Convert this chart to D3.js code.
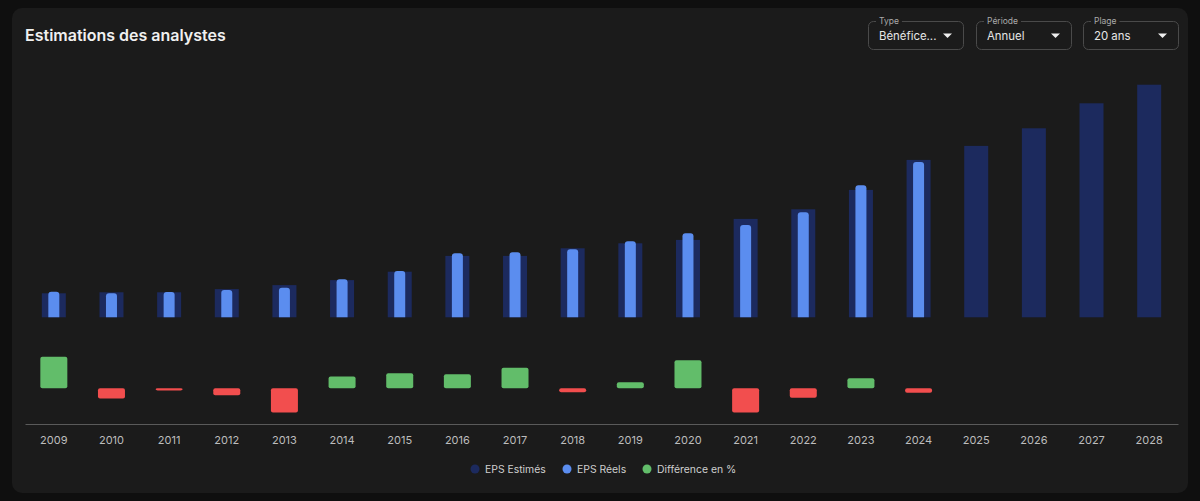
<!DOCTYPE html>
<html>
<head>
<meta charset="utf-8">
<script src="https://cdn.jsdelivr.net/npm/d3@7"></script>
<style>
  html, body { margin: 0; padding: 0; background: #0f0f0f; }
  svg { display: block; font-family: Inter, "Noto Sans", sans-serif; }
</style>
</head>
<body>
<svg width="1200" height="501"></svg>
<script>
const years = ["2009","2010","2011","2012","2013","2014","2015","2016","2017","2018",
  "2019","2020","2021","2022","2023","2024","2025","2026","2027","2028"];
const epsEstimated = [1.20,1.25,1.25,1.41,1.61,1.86,2.28,3.07,3.07,3.45,
  3.70,3.87,4.92,5.40,6.37,7.87,8.57,9.45,10.70,11.63];
const epsActual = [1.28,1.20,1.26,1.36,1.48,1.90,2.31,3.20,3.25,3.40,
  3.80,4.20,4.62,5.25,6.60,7.77];
const diffPct = [9.0,-2.9,-0.6,-2.0,-6.9,3.4,4.3,4.0,5.9,-1.1,
  1.7,8.0,-6.9,-2.7,2.9,-1.3];
const legendItems = ["EPS Estimés", "EPS Réels", "Différence en %"];
const dropdowns = [
  { label: "Type", value: "Bénéfice..." },
  { label: "Période", value: "Annuel" },
  { label: "Plage", value: "20 ans" }
];

const colEst = "#1c2a5e", colAct = "#5b8def", colUp = "#62bd6a", colDown = "#f24e4e";

const svg = d3.select("svg");

// card
svg.append("rect").attr("x", 12).attr("y", 8).attr("width", 1176).attr("height", 485)
  .attr("rx", 10).attr("fill", "#1b1b1b");

svg.append("text").attr("x", 25).attr("y", 41).attr("fill", "#f0f0f0")
  .attr("font-size", 16).attr("font-weight", 600).text("Estimations des analystes");

// dropdowns
const ddX = [868, 976, 1083], ddW = [95, 95, 95];
dropdowns.forEach((d, i) => {
  const g = svg.append("g").attr("transform", `translate(${ddX[i]},21)`);
  g.append("rect").attr("x", 0.5).attr("y", 0.5).attr("width", ddW[i]).attr("height", 28)
    .attr("rx", 5).attr("fill", "none").attr("stroke", "#4a4a4a");
  const lbl = g.append("text").attr("x", 11).attr("y", 0).attr("dy", "0.35em")
    .attr("fill", "#aaa").attr("font-size", 8.5).text(d.label);
  const lw = lbl.node().getComputedTextLength();
  g.insert("rect", "text").attr("x", 8).attr("y", -2).attr("width", lw + 6).attr("height", 5)
    .attr("fill", "#1b1b1b");
  g.append("text").attr("x", 11).attr("y", 19).attr("fill", "#e6e6e6")
    .attr("font-size", 11.4).text(d.value);
  g.append("path").attr("d", `M${ddW[i] - 20},12.5 L${ddW[i] - 11},12.5 L${ddW[i] - 15.5},17 Z`)
    .attr("fill", "#eee");
});

// scales
const x = d3.scaleBand().domain(years).range([25, 1178]);
const y = d3.scaleLinear().domain([0, 12]).range([317.3, 77.3]);
const yd = d3.scaleLinear().domain([-10, 10]).range([423.3, 353.3]);

const estW = 24, actW = 11, diffW = 27;

svg.append("g").selectAll("rect").data(epsEstimated).join("rect")
  .attr("x", (d, i) => x(years[i]) + x.bandwidth() / 2 - estW / 2)
  .attr("y", d => y(d))
  .attr("width", estW)
  .attr("height", d => y(0) - y(d))
  .attr("fill", colEst);

function topRounded(x0, y0, w, h, r) {
  r = Math.min(r, h, w / 2);
  return `M${x0},${y0 + h}V${y0 + r}Q${x0},${y0} ${x0 + r},${y0}H${x0 + w - r}Q${x0 + w},${y0} ${x0 + w},${y0 + r}V${y0 + h}Z`;
}

svg.append("g").selectAll("path").data(epsActual).join("path")
  .attr("d", (d, i) => topRounded(x(years[i]) + x.bandwidth() / 2 - actW / 2, y(d), actW, y(0) - y(d), 3))
  .attr("fill", colAct);

svg.append("g").selectAll("rect").data(diffPct).join("rect")
  .attr("x", (d, i) => x(years[i]) + x.bandwidth() / 2 - diffW / 2)
  .attr("y", d => Math.min(yd(d), yd(0)))
  .attr("width", diffW)
  .attr("height", d => Math.max(1.5, Math.abs(yd(d) - yd(0))))
  .attr("rx", 2)
  .attr("fill", d => d >= 0 ? colUp : colDown);

// x axis
const xAxis = svg.append("g").attr("transform", "translate(0,424)")
  .call(d3.axisBottom(x).tickSize(0).tickPadding(12));
xAxis.select(".domain").attr("stroke", "#5a5a5a");
xAxis.selectAll("text").attr("fill", "#bdbdbd").attr("font-size", 11)
  .attr("font-family", "Inter, 'Noto Sans', sans-serif");

// legend
const legendX = [475, 567, 647], legendCol = [colEst, colAct, colUp];
const lg = svg.append("g");
legendItems.forEach((t, i) => {
  lg.append("circle").attr("cx", legendX[i]).attr("cy", 469).attr("r", 4.5).attr("fill", legendCol[i]);
  lg.append("text").attr("x", legendX[i] + 10).attr("y", 469).attr("dy", "0.35em")
    .attr("fill", "#cfcfcf").attr("font-size", 10.4).text(t);
});
</script>
</body>
</html>
